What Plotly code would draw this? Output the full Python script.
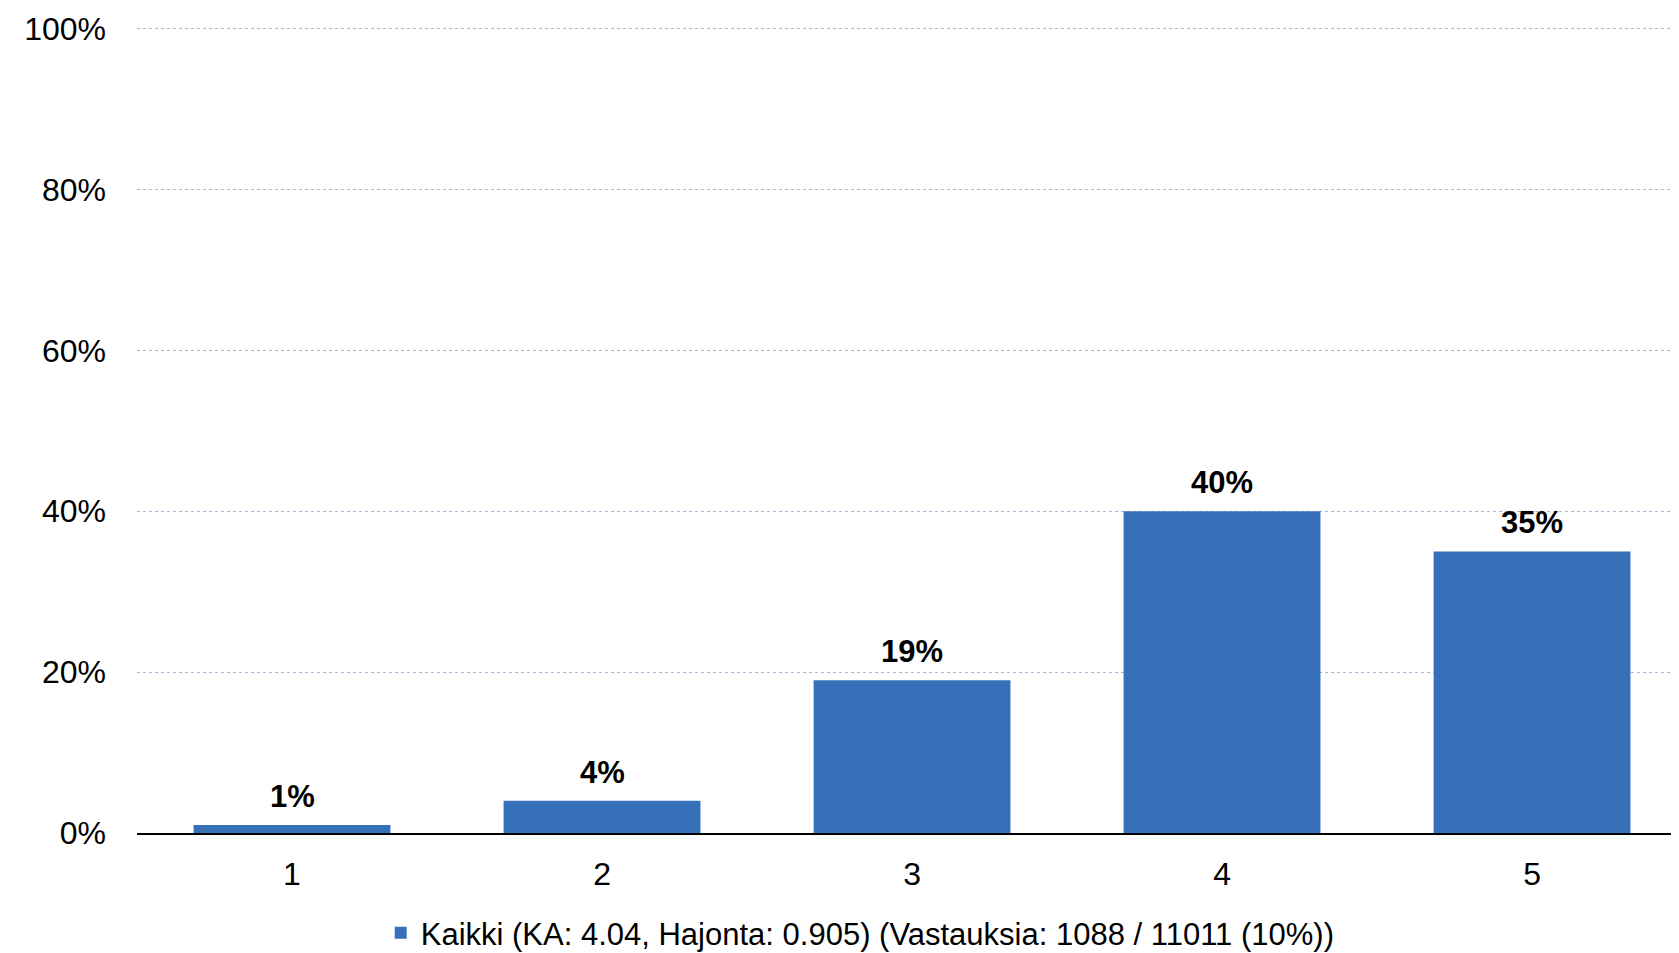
import plotly.graph_objects as go

categories = ["1", "2", "3", "4", "5"]
values = [1, 4, 19, 40, 35]
value_labels = ["1%", "4%", "19%", "40%", "35%"]
series_name = "Kaikki (KA: 4.04, Hajonta: 0.905) (Vastauksia: 1088 / 11011 (10%))"
y_ticks = [0, 20, 40, 60, 80, 100]
y_tick_labels = ["0%", "20%", "40%", "60%", "80%", "100%"]

FONT = "Liberation Sans, Arial, sans-serif"

fig = go.Figure()
fig.add_trace(go.Bar(
    x=categories,
    y=values,
    name=series_name,
    marker=dict(color="#3570b8", line=dict(width=0)),
    width=0.635,
    showlegend=True,
))

# value labels above the bars (category index positions on the category axis)
for idx, (val, lab) in enumerate(zip(values, value_labels)):
    fig.add_annotation(
        x=idx, y=val, text="<b>" + lab + "</b>",
        xref="x", yref="y", showarrow=False,
        yanchor="bottom", yshift=9,
        font=dict(family=FONT, size=31, color="#000000"),
    )

# page body has an 8px margin, so the figure is sized 8px smaller
fig.update_layout(
    width=1671,
    height=945,
    margin=dict(l=129, r=0, t=19, b=120, autoexpand=False),
    plot_bgcolor="white",
    paper_bgcolor="white",
    font=dict(family=FONT, size=30, color="#000000"),
    showlegend=True,
    legend=dict(
        orientation="h",
        xref="container", yref="container",
        x=0.51, xanchor="center",
        y=0.021, yanchor="middle",
        font=dict(family=FONT, size=31, color="#000000"),
        bgcolor="rgba(0,0,0,0)",
    ),
)

fig.update_xaxes(
    type="category",
    range=[-0.5, 4.474],
    automargin=False,
    showline=True, linecolor="#000000", linewidth=2,
    showgrid=False, zeroline=False,
    ticks="", ticklabelstandoff=12,
    tickfont=dict(family=FONT, size=32, color="#000000"),
)

fig.update_yaxes(
    range=[0, 100.2],
    automargin=False,
    tickvals=y_ticks,
    ticktext=y_tick_labels,
    ticklabeloverflow="allow",
    showgrid=True, gridcolor="#9bb8e0", gridwidth=1, griddash="dot",
    zeroline=False, showline=False,
    ticks="", ticklabelstandoff=30,
    tickfont=dict(family=FONT, size=32, color="#000000"),
)

fig.write_html("out.html")
